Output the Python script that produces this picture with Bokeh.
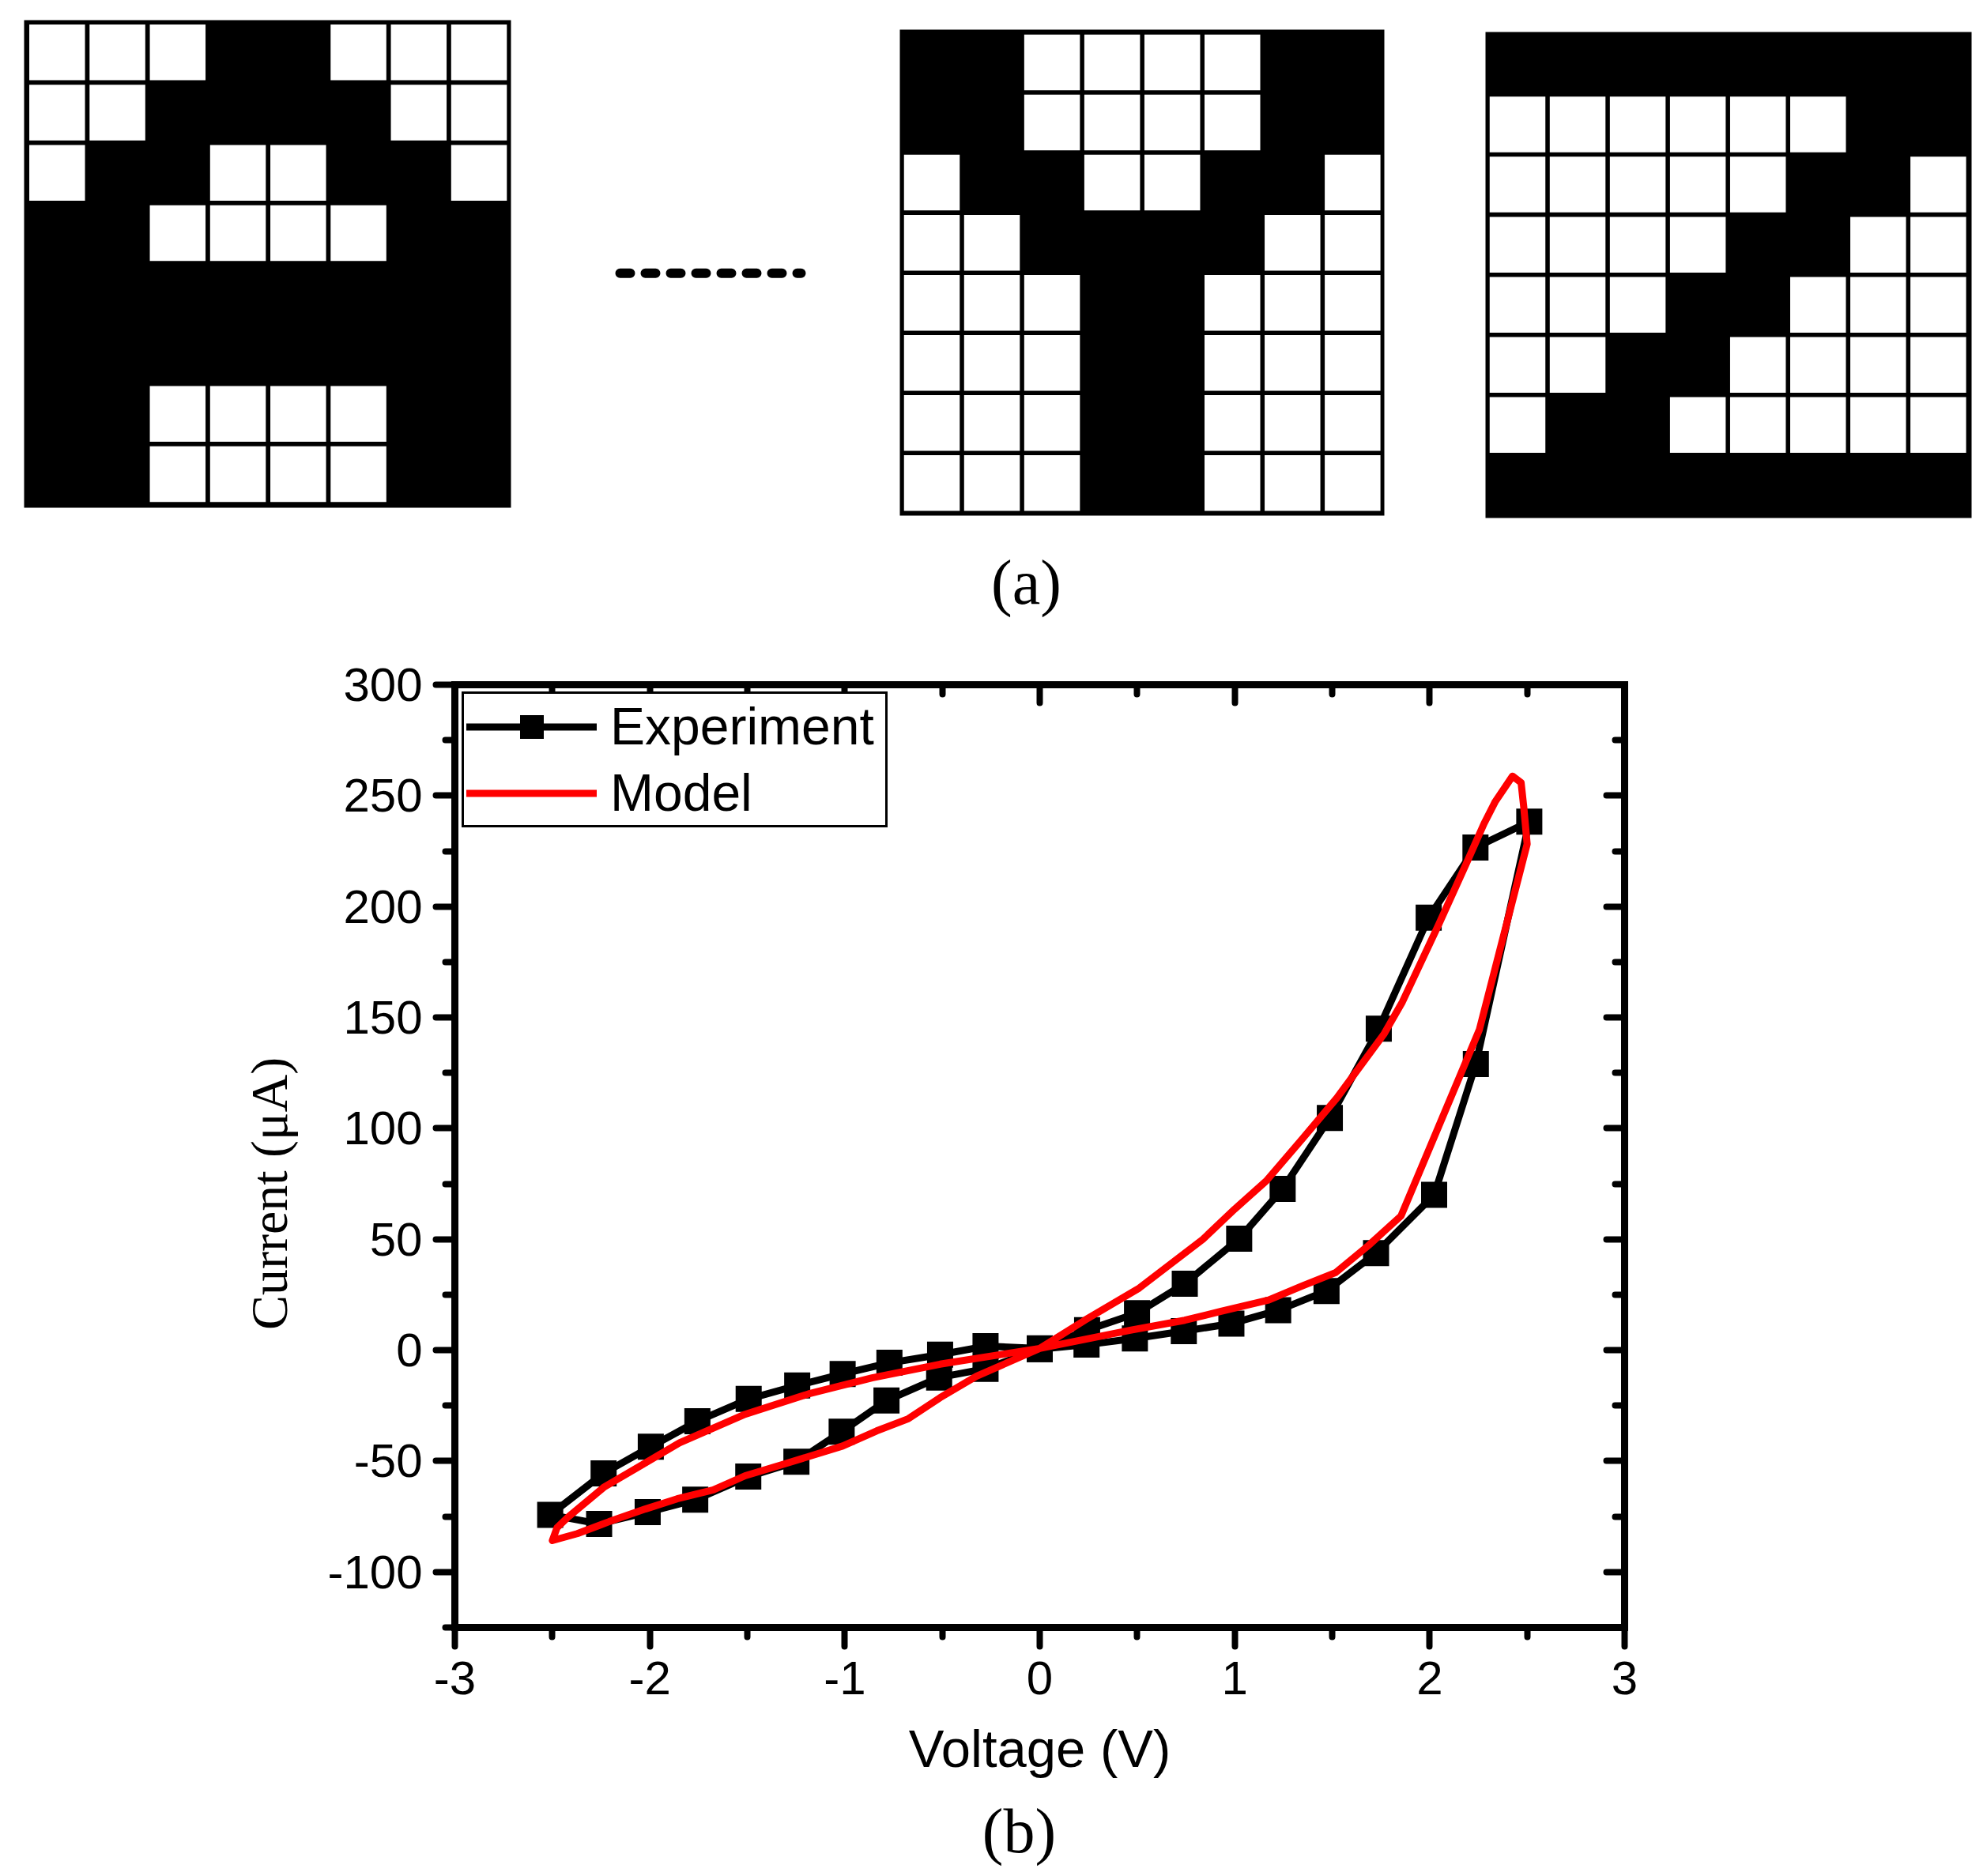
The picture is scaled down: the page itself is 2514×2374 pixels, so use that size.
from bokeh.plotting import figure
from bokeh.layouts import column, row
from bokeh.models import FixedTicker, LinearAxis, Legend, LegendItem, Range1d
from bokeh.embed import file_html
from bokeh.resources import INLINE

# ---- panel (a): white cells = 1, black cells = 0
pattern_1 = [
    [1,1,1,0,0,1,1,1],
    [1,1,0,0,0,0,1,1],
    [1,0,0,1,1,0,0,1],
    [0,0,1,1,1,1,0,0],
    [0,0,0,0,0,0,0,0],
    [0,0,0,0,0,0,0,0],
    [0,0,1,1,1,1,0,0],
    [0,0,1,1,1,1,0,0],
]
pattern_2 = [
    [0,0,1,1,1,1,0,0],
    [0,0,1,1,1,1,0,0],
    [1,0,0,1,1,0,0,1],
    [1,1,0,0,0,0,1,1],
    [1,1,1,0,0,1,1,1],
    [1,1,1,0,0,1,1,1],
    [1,1,1,0,0,1,1,1],
    [1,1,1,0,0,1,1,1],
]
pattern_3 = [
    [0,0,0,0,0,0,0,0],
    [1,1,1,1,1,1,0,0],
    [1,1,1,1,1,0,0,1],
    [1,1,1,1,0,0,1,1],
    [1,1,1,0,0,1,1,1],
    [1,1,0,0,1,1,1,1],
    [1,0,0,1,1,1,1,1],
    [0,0,0,0,0,0,0,0],
]

# ---- panel (b): experiment
exp_v = [0.0, 0.24, 0.488, 0.739, 0.983, 1.223, 1.471, 1.725, 2.023, 2.237, 2.511,
         2.235, 1.995, 1.739, 1.488, 1.246, 1.023, 0.744, 0.499, 0.243, 0.0,
         -0.278, -0.511, -0.771, -1.011, -1.244, -1.493, -1.756, -1.995, -2.237, -2.511,
         -2.26, -2.011, -1.767, -1.495, -1.248, -1.016, -0.786, -0.516, -0.278, 0.0]
exp_i = [0.5, 2.5, 5.3, 8.6, 12, 18, 26.7, 43.8, 70, 129, 238.3,
         226.6, 195, 144.9, 104.7, 72.7, 50.3, 30, 16.7, 9, 0.8,
         1.8, -2, -5.7, -10.7, -15.9, -22, -32, -43.5, -55.5, -74.2,
         -78.3, -73, -67.4, -57, -50.3, -36.7, -22.7, -12.3, -8.4, 0.5]

# ---- panel (b): model
model_v = [0.0, 0.464, 0.744, 0.93, 1.174, 1.348, 1.518, 1.686, 1.853, 2.255,
           2.5, 2.483, 2.469, 2.425,
           2.337, 2.279, 2.186, 2.046, 1.86, 1.767, 1.523, 1.348, 1.162, 1.0, 0.837, 0.51, 0.231, 0.0,
           -0.325, -0.511, -0.674, -0.837, -1.011, -1.302, -1.511, -1.674, -1.86, -2.023, -2.209, -2.372, -2.5,
           -2.476, -2.419, -2.233, -2.046, -1.848, -1.511, -1.186, -0.86, -0.511, 0.0]
model_i = [0.8, 9, 13.5, 17.5, 22.6, 29, 35, 47.2, 60.5, 144.5,
           228.2, 244.6, 255.9, 258.8,
           247.4, 237.4, 219, 191.8, 157, 142.7, 113.6, 95.4, 76.3, 63.6, 50, 28, 13.5, 0.8,
           -11.8, -21.4, -30.9, -36.4, -43.2, -51.1, -56.6, -63, -67, -71.6, -77.3, -82.7, -85.8,
           -80, -75.2, -61.6, -52, -41.8, -28.9, -19.7, -12.5, -6.3, 0.8]

x_ticks = [-3, -2, -1, 0, 1, 2, 3]
x_labels = ["-3", "-2", "-1", "0", "1", "2", "3"]
x_minor = [-2.5, -1.5, -0.5, 0.5, 1.5, 2.5]
y_ticks = [-100, -50, 0, 50, 100, 150, 200, 250, 300]
y_labels = ["-100", "-50", "0", "50", "100", "150", "200", "250", "300"]
y_minor = [-125, -75, -25, 25, 75, 125, 175, 225, 275]

FONT = "Liberation Sans"
SERIF = "Liberation Serif"
PAGE_W = 2506
BAND_H = 800
CHART_H = 1470
CAP_H = 96


def bare_fig(width, height, x0, x1, y0, y1):
    f = figure(width=width, height=height, output_backend="svg", toolbar_location=None,
               x_axis_location=None, y_axis_location=None,
               x_range=Range1d(x0, x1), y_range=Range1d(y0, y1),
               min_border_left=0, min_border_right=0, min_border_top=0, min_border_bottom=0,
               outline_line_color=None)
    f.grid.visible = False
    return f


# ---- top band: cell patterns, dotted link, caption; the axes here are page pixels
band = bare_fig(PAGE_W, BAND_H, 0, PAGE_W, BAND_H, 0)
CELL = 70.5


def draw_pattern(pat, left, top, w, h, cx0, cy0, pitch):
    band.quad(left=[left], right=[left + w], top=[top], bottom=[top + h],
              fill_color="black", line_color=None)
    xs, ys = [], []
    for r, cells in enumerate(pat):
        for c, v in enumerate(cells):
            if v:
                xs.append(cx0 + c * pitch)
                ys.append(cy0 + r * pitch)
    band.rect(xs, ys, width=CELL, height=CELL, fill_color="white", line_color=None)


draw_pattern(pattern_1, 30, 25, 616, 617, 71.8, 65.8, 76.25)
draw_pattern(pattern_2, 1138, 37, 613, 615, 1178.5, 78.5, 76.05)
draw_pattern(pattern_3, 1879, 40, 615, 615, 1919.5, 81, 76.05)
band.line([784, 1013], [345.3, 345.3], line_color="black", line_width=12,
          line_dash=[13, 19], line_cap="round")
band.text([1298], [736], text=["(a)"], text_font=SERIF, text_font_size="80px",
          text_align="center", text_baseline="middle", text_color="black")

# ---- chart
p = figure(width=PAGE_W - 400, height=CHART_H, output_backend="svg", toolbar_location=None,
           x_range=Range1d(-3, 3), y_range=Range1d(-125, 300),
           min_border_left=175, min_border_top=66, min_border_bottom=211,
           min_border_right=PAGE_W - 400 - 175 - 1480,
           outline_line_color=None, x_axis_location=None, y_axis_location=None)
p.grid.visible = False


def style(ax, ticks, minor, labels, inward=False):
    ax.ticker = FixedTicker(ticks=ticks, minor_ticks=minor)
    ax.axis_line_width = 9
    ax.axis_line_cap = "square"
    ax.major_tick_line_width = 8
    ax.minor_tick_line_width = 8
    ax.major_tick_line_cap = "round"
    ax.minor_tick_line_cap = "round"
    ax.major_tick_line_color = "black"
    ax.minor_tick_line_color = "black"
    ax.axis_line_color = "black"
    if inward:
        ax.major_tick_in, ax.major_tick_out = 23, 0
        ax.minor_tick_in, ax.minor_tick_out = 12, 0
        ax.major_label_overrides = {t: "" for t in ticks}
        ax.major_label_standoff = 0
        ax.major_label_text_font_size = "1px"
    else:
        ax.major_tick_in, ax.major_tick_out = 0, 24
        ax.minor_tick_in, ax.minor_tick_out = 0, 12
        ax.major_label_overrides = dict(zip(ticks, labels))
        ax.major_label_text_font = FONT
        ax.major_label_text_font_size = "60px"
        ax.major_label_text_color = "black"
        ax.axis_label_text_font = FONT
        ax.axis_label_text_font_size = "67px"
        ax.axis_label_text_font_style = "normal"
        ax.axis_label_text_color = "black"


xb = LinearAxis(axis_label="Voltage (V)")
style(xb, x_ticks, x_minor, x_labels)
xb.major_label_standoff = 19
xb.axis_label_standoff = 28
p.add_layout(xb, "below")

yl = LinearAxis()
style(yl, y_ticks, y_minor, y_labels)
yl.major_label_standoff = 17
p.add_layout(yl, "left")

xt = LinearAxis()
style(xt, x_ticks, x_minor, x_labels, inward=True)
p.add_layout(xt, "above")

yr = LinearAxis()
style(yr, y_ticks, y_minor, y_labels, inward=True)
p.add_layout(yr, "right")

exp_line = p.line(exp_v, exp_i, line_color="black", line_width=9, line_join="round", line_cap="round")
exp_pts = p.scatter(exp_v, exp_i, marker="square", size=33, fill_color="black", line_color=None)
model_line = p.line(model_v, model_i, line_color="#ff0000", line_width=9, line_join="round", line_cap="round")

legend = Legend(items=[LegendItem(label="Experiment", renderers=[exp_line, exp_pts]),
                       LegendItem(label="Model", renderers=[model_line])],
                location="top_left", margin=9, padding=3, spacing=8,
                glyph_width=165, glyph_height=75, label_height=75, label_standoff=17,
                label_width=345,
                label_text_font=FONT, label_text_font_size="66px", label_text_color="black",
                label_text_baseline="middle",
                border_line_color="black", border_line_width=3, border_line_alpha=1,
                background_fill_color="white", background_fill_alpha=1)
p.add_layout(legend)

# ---- y axis title sits off-centre, so it is drawn beside the chart on the same y scale
ylab = figure(width=400, height=CHART_H, output_backend="svg", toolbar_location=None,
              x_axis_location=None, y_axis_location=None,
              x_range=Range1d(0, 400), y_range=p.y_range,
              min_border_left=0, min_border_right=0, min_border_top=66, min_border_bottom=211,
              outline_line_color=None)
ylab.grid.visible = False
ylab.text([340], [70.6], text=["Current (μA)"], angle=90, angle_units="deg",
          text_font=FONT, text_font_size="66px", text_align="center",
          text_baseline="middle", text_color="black")

# ---- caption (b)
cap = bare_fig(PAGE_W, CAP_H, 0, PAGE_W, CAP_H, 0)
cap.text([1289], [46], text=["(b)"], text_font=SERIF, text_font_size="80px",
         text_align="center", text_baseline="middle", text_color="black")

page = column(row(band), row(ylab, p), row(cap))
open("out.html", "w").write(file_html(page, INLINE))
